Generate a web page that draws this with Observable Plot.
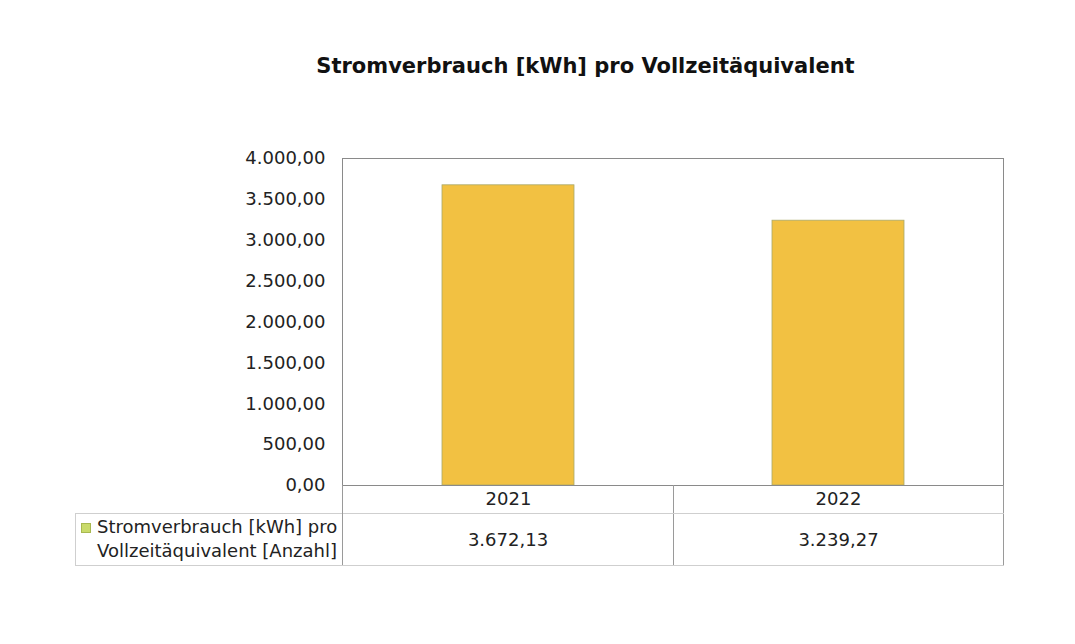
<!DOCTYPE html>
<html><head><meta charset="utf-8">
<script src="https://cdn.jsdelivr.net/npm/d3@7"></script>
<script src="https://cdn.jsdelivr.net/npm/@observablehq/plot@0.6"></script>
<style>
body{margin:0;background:#fff;font-family:"DejaVu Sans",Verdana,sans-serif;}
#wrap{position:relative;width:1075px;height:644px;}
#chart{position:absolute;left:0;top:0;}
#title{position:absolute;left:0;top:54px;width:1075px;padding-left:96px;box-sizing:border-box;text-align:center;font-weight:bold;font-size:21px;line-height:25px;color:#111;white-space:nowrap;}
#tbl{position:absolute;left:75px;top:485px;width:928px;border-collapse:collapse;font-size:18px;color:#222;table-layout:fixed;}
#tbl td{padding:0;}
</style></head><body>
<div id="wrap"><div id="chart"></div><div id="title"></div><table id="tbl"><colgroup><col style="width:267px"><col style="width:331px"><col style="width:330px"></colgroup></table></div>
<script>
const title = "Stromverbrauch [kWh] pro Vollzeitäquivalent";
const years = ["2021", "2022"];
const values = [3672.13, 3239.27];
const seriesLabelLines = ["Stromverbrauch [kWh] pro", "Vollzeitäquivalent [Anzahl]"];
const yTicks = [0, 500, 1000, 1500, 2000, 2500, 3000, 3500, 4000];

const de = d3.formatLocale({decimal: ",", thousands: ".", grouping: [3], currency: ["", " €"]});
const fmt = de.format(",.2f");

const data = years.map((y, i) => ({year: y, value: values[i]}));

const barColor = "#f2c142";
const chart = Plot.plot({
  width: 1075,
  height: 644,
  marginTop: 158,
  marginBottom: 159,
  marginLeft: 342,
  marginRight: 72,
  style: {fontFamily: "'DejaVu Sans', Verdana, sans-serif", fontSize: "18px", color: "#222", background: "#fff"},
  x: {domain: years, paddingInner: 0.6, paddingOuter: 0.3, label: null, tickSize: 0, tickPadding: 7},
  y: {domain: [0, 4000], ticks: yTicks, tickFormat: fmt, label: null, tickSize: 0, tickPadding: 17},
  marks: [
    Plot.barY(data, {x: "year", y: "value", fill: barColor, stroke: "#a9a96a", strokeWidth: 0.8}),
    Plot.frame({stroke: "#8a8a8a", strokeWidth: 1})
  ]
});
document.getElementById("chart").appendChild(chart);
document.getElementById("title").textContent = title;

// data table below the chart
const tbl = document.getElementById("tbl");
const line = "1px solid #cfcfcf";
const dark = "1px solid #9a9a9a";
const r1 = tbl.insertRow();
r1.style.height = "28px";
const c0 = r1.insertCell(); c0.style.borderRight = dark;
years.forEach((y, i) => {
  const c = r1.insertCell();
  c.style.borderRight = dark;
  c.style.borderBottom = line;
});
const r2 = tbl.insertRow();
r2.style.height = "52px";
const lab = r2.insertCell();
lab.style.borderLeft = line; lab.style.borderTop = line; lab.style.borderBottom = line; lab.style.borderRight = dark;
lab.style.verticalAlign = "middle";
lab.innerHTML = `<div style="display:flex;align-items:flex-start;padding-left:5px;line-height:24px;">
<span style="display:inline-block;width:8px;height:8px;background:#c9da6a;border:1px solid #a8b850;margin-top:8px;margin-right:6px;flex:none"></span>
<span style="white-space:nowrap">${seriesLabelLines.join("<br>")}</span></div>`;
values.forEach((v, i) => {
  const c = r2.insertCell();
  c.style.textAlign = "center";
  c.style.borderRight = dark;
  c.style.borderBottom = line;
  c.textContent = fmt(v);
});
</script>
</body></html>
